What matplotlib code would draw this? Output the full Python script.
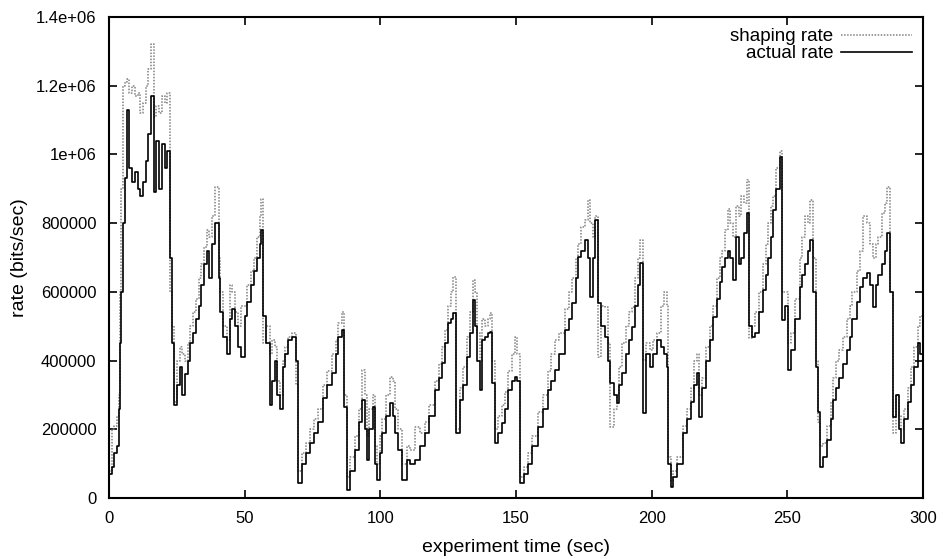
import matplotlib
matplotlib.use('Agg')
import matplotlib.pyplot as plt

plt.rcParams['font.family'] = 'Liberation Sans'

# time (sec), actual and shaping rate (kbits/sec)
t = [0, 1, 2, 3, 3.5, 4, 4.5, 5, 6, 6.5, 7.5, 8.5, 9.5, 10.5, 11.5, 12.5, 13.5, 14.5, 15.5, 16.5,
     17.5, 18.5, 19.5, 20.5, 21.5, 22.5, 23.2, 24, 25, 26, 27, 28, 29, 30, 31, 32, 33, 34, 35, 36,
     37, 38, 39, 40.5, 41, 42, 43.5, 44.5, 45.5, 46.5, 47.5, 48.7, 50, 51, 52.5, 53.5, 54.5, 55.5, 56, 56.8,
     58, 59.3, 60.2, 61.2, 62, 63, 64, 65, 66, 67.5, 69, 69.8, 71, 72.5, 74, 75.5, 77, 78.9, 80.5, 82.2,
     83.5, 84.4, 85.9, 86.6, 87.7, 89, 90.7, 92, 93.2, 94.3, 95, 96, 97.3, 98, 98.8, 100, 100.6, 102, 103.6, 104.5,
     105.4, 106.5, 108, 109.8, 111, 112.8, 114.5, 116.5, 118, 120, 121.5, 122.7, 124, 125, 126, 126.8, 127.9, 129.4, 130.5, 132,
     133, 134, 135, 135.5, 136.7, 137.5, 138.6, 139.5, 140.4, 141.2, 142.3, 143.5, 144.9, 146, 147, 148.5, 149.6, 150.5, 151.5, 153,
     154.4, 156, 158, 160, 161.8, 163, 164.4, 166, 168, 169.5, 170.7, 172, 172.9, 174, 175.4, 176.6, 177.3, 178.2, 179.1, 180.2,
     181.5, 182.8, 183.8, 184.7, 186, 187.2, 188, 189, 190.5, 191.5, 192.8, 194, 195, 195.7, 196.8, 198, 199.5, 200.5, 202, 203.5,
     204.5, 205.5, 206.2, 207, 208, 209.5, 211.6, 213, 214.5, 215.5, 216.6, 217.5, 218.5, 220, 221.5, 222.7, 224, 225, 226, 227,
     228, 229, 230, 231, 232, 233, 234, 235, 236, 237, 238, 239.5, 241, 242, 243, 244, 244.7, 246, 247.3, 248,
     249, 250.3, 251.5, 253, 254.7, 255.5, 256.5, 257.5, 258.4, 259.5, 260.5, 261.3, 262, 263, 264.5, 266, 266.9, 268, 269, 270.5,
     272, 273, 274, 275.5, 276.8, 278, 279.4, 280.5, 281.6, 282.5, 283.5, 285, 286, 286.8, 288, 289, 290, 291, 292, 293,
     294.5, 295.5, 296.5, 298, 299, 300]

actual = [70, 90, 130, 150, 260, 450, 600, 800, 930, 1130, 960, 920, 950, 900, 880, 920, 980, 1060, 1170, 890,
          1040, 900, 1030, 960, 1010, 700, 450, 270, 330, 380, 300, 360, 400, 450, 480, 520, 560, 620, 680, 720,
          640, 740, 800, 640, 540, 470, 420, 520, 550, 500, 440, 410, 530, 570, 620, 660, 700, 740, 780, 530,
          450, 270, 340, 400, 300, 260, 380, 420, 460, 470, 400, 44, 100, 130, 160, 190, 220, 290, 330, 364,
          420, 470, 490, 265, 23, 80, 140, 220, 285, 200, 110, 200, 265, 100, 52, 130, 190, 240, 276, 240,
          190, 140, 52, 110, 100, 110, 150, 190, 240, 314, 350, 393, 450, 509, 520, 538, 190, 285, 330, 410,
          480, 576, 500, 400, 314, 460, 469, 480, 483, 335, 160, 190, 218, 260, 314, 340, 352, 340, 44, 70,
          100, 150, 207, 260, 314, 340, 372, 420, 489, 520, 567, 640, 701, 720, 751, 700, 585, 700, 809, 567,
          500, 469, 400, 335, 300, 276, 330, 364, 420, 460, 498, 560, 620, 684, 247, 420, 380, 420, 460, 440,
          420, 380, 100, 32, 60, 100, 190, 230, 280, 330, 364, 236, 320, 400, 460, 527, 580, 630, 672, 700,
          720, 700, 634, 760, 680, 700, 770, 830, 500, 470, 480, 540, 605, 650, 700, 760, 838, 900, 993, 518,
          560, 372, 430, 520, 615, 650, 680, 720, 750, 600, 380, 250, 90, 120, 170, 230, 285, 320, 350, 390,
          430, 470, 520, 570, 615, 640, 655, 620, 556, 620, 650, 680, 720, 770, 600, 236, 300, 200, 160, 230,
          280, 330, 382, 450, 420, 500]

shaping = [80, 200, 210, 240, 300, 600, 900, 1200, 1210, 1220, 1180, 1200, 1170, 1180, 1120, 1150, 1200, 1250, 1320, 1110,
           1140, 1120, 1170, 1150, 1180, 600, 500, 280, 400, 440, 420, 400, 450, 500, 540, 580, 640, 680, 730, 780,
           760, 820, 905, 700, 600, 500, 460, 620, 600, 540, 500, 560, 560, 620, 660, 700, 760, 820, 870, 450,
           500, 420, 460, 440, 340, 300, 400, 440, 470, 480, 330, 80, 130, 160, 200, 230, 260, 330, 370, 420,
           460, 510, 540, 300, 60, 120, 180, 260, 372, 300, 180, 260, 300, 150, 100, 180, 230, 300, 352, 340,
           260, 200, 100, 150, 140, 207, 190, 220, 270, 340, 390, 440, 490, 560, 600, 644, 200, 320, 380, 470,
           540, 634, 600, 480, 400, 520, 500, 520, 538, 400, 200, 240, 270, 310, 370, 420, 469, 420, 60, 90,
           130, 180, 250, 300, 370, 420, 460, 480, 550, 600, 640, 700, 740, 790, 809, 867, 800, 760, 820, 410,
           560, 556, 450, 207, 260, 300, 380, 451, 500, 540, 556, 640, 700, 751, 402, 450, 430, 460, 480, 560,
           600, 560, 120, 50, 80, 120, 210, 260, 320, 400, 420, 300, 350, 440, 500, 560, 640, 700, 720, 780,
           840, 800, 760, 850, 820, 880, 860, 925, 466, 500, 540, 600, 680, 740, 800, 850, 880, 960, 1010, 600,
           600, 450, 480, 580, 700, 760, 820, 800, 867, 700, 400, 220, 150, 160, 210, 280, 350, 400, 430, 470,
           520, 560, 600, 660, 720, 820, 800, 740, 700, 740, 760, 830, 860, 905, 600, 188, 300, 240, 200, 260,
           320, 380, 440, 500, 530, 550]

actual_bps = [v * 1000 for v in actual]
shaping_bps = [v * 1000 for v in shaping]

y_ticks = [0, 200000, 400000, 600000, 800000, 1000000, 1200000, 1400000]
y_labels = ['0', '200000', '400000', '600000', '800000', '1e+06', '1.2e+06', '1.4e+06']
x_ticks = [0, 50, 100, 150, 200, 250, 300]

fig = plt.figure(figsize=(9.43, 5.59), dpi=100)
ax = fig.add_axes([0.1156, 0.1091, 0.8632, 0.8605])

ax.plot(t, shaping_bps, drawstyle='steps-post', color='0.5', linestyle=(0, (1, 1)),
        linewidth=1.1, label='shaping rate')
ax.plot(t, actual_bps, drawstyle='steps-post', color='black', linewidth=1.2,
        label='actual rate')

ax.set_xlim(0, 300)
ax.set_ylim(0, 1400000)
ax.set_xticks(x_ticks)
ax.set_xticklabels([str(x) for x in x_ticks])
ax.set_yticks(y_ticks)
ax.set_yticklabels(y_labels)
ax.tick_params(direction='in', length=6, width=1.2, top=True, right=True, labelsize=12, pad=9)
for s in ax.spines.values():
    s.set_linewidth(1.5)

ax.set_xlabel('experiment time (sec)', fontsize=14, labelpad=10)
ax.set_ylabel('rate (bits/sec)', fontsize=14, labelpad=6)

ax.legend(loc='upper right', frameon=False, markerfirst=False, fontsize=13.5,
          handlelength=3.8, handletextpad=0.4, labelspacing=0.0, borderaxespad=0.2)

fig.savefig('out.png', dpi=100)
